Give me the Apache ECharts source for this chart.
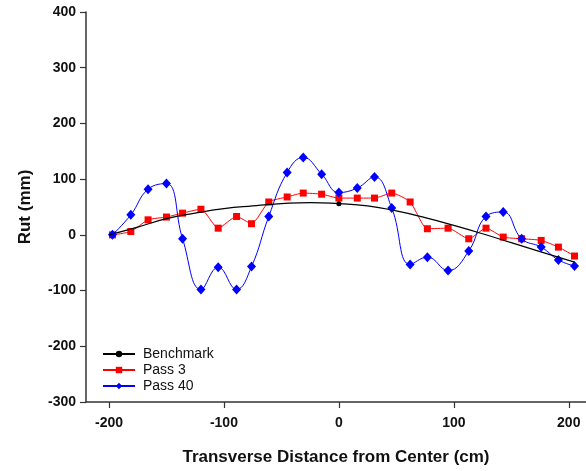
<!DOCTYPE html>
<html><head><meta charset="utf-8">
<script src="https://cdn.jsdelivr.net/npm/echarts@6/dist/echarts.min.js"></script>
<style>html,body{margin:0;padding:0;background:#fff}#c{width:586px;height:471px}</style>
</head><body><div id="c"></div>
<script>
// Data
const benchX = [-200, -175, -150, -125, -100, -75, -50, -25, 0, 25, 50, 75, 100, 125, 150, 175, 205];
const benchY = [0, 14, 29, 39, 47, 52, 56, 58, 56, 52, 43, 31, 17, 2, -14, -30, -49];
const passX = [-197, -181, -166, -150, -136, -120, -105, -89, -76, -61, -45, -31, -15, 0, 16, 31, 46, 62, 77, 95, 113, 128, 143, 159, 176, 191, 205];
const pass3Y = [0, 6, 27, 32, 39, 46, 12, 33, 20, 59, 68, 75, 73, 66, 66, 66, 75, 59, 11, 12, -7, 12, -4, -7, -10, -22, -38];
const pass40Y = [0, 36, 82, 92, -7, -98, -58, -98, -57, 33, 112, 139, 109, 76, 84, 104, 48, -53, -40, -64, -29, 33, 41, -7, -22, -45, -56];
const xTicks = [-200, -100, 0, 100, 200];
const seriesNames = ['Benchmark', 'Pass 3', 'Pass 40'];

const FONT = 'Liberation Sans, Arial, sans-serif';
const zip = (xs, ys) => xs.map((x, i) => [x, ys[i]]);
const benchData = benchX.map((x, i) => x === 0
  ? { value: [x, benchY[i]], symbol: 'circle', symbolSize: 5 }
  : { value: [x, benchY[i]], symbol: 'none' });

const chart = echarts.init(document.getElementById('c'), null, { renderer: 'canvas' });
chart.setOption({
  animation: false,
  backgroundColor: '#fff',
  grid: { left: 86, right: 0, top: 12, bottom: 67, containLabel: false },
  xAxis: {
    type: 'value', min: -220, max: 215,
    name: 'Transverse Distance from Center (cm)', nameLocation: 'middle', nameGap: 47,
    nameTextStyle: { fontFamily: FONT, fontSize: 17, fontWeight: 'bold', color: '#111' },
    axisLine: { show: true, onZero: false, lineStyle: { color: '#333', width: 1.5 } },
    axisTick: { show: true, inside: false, length: 6, customValues: xTicks, lineStyle: { color: '#333', width: 1.2 } },
    axisLabel: { customValues: xTicks, margin: 14, fontFamily: FONT, fontSize: 14, fontWeight: 'bold', color: '#111' },
    splitLine: { show: false }
  },
  yAxis: {
    type: 'value', min: -300, max: 400, interval: 100,
    name: 'Rut (mm)', nameLocation: 'middle', nameGap: 52, nameRotate: 90,
    nameTextStyle: { fontFamily: FONT, fontSize: 17, fontWeight: 'bold', color: '#111' },
    axisLine: { show: true, onZero: false, lineStyle: { color: '#333', width: 1.5 } },
    axisTick: { show: true, inside: false, length: 6, lineStyle: { color: '#333', width: 1.2 } },
    axisLabel: { margin: 10, fontFamily: FONT, fontSize: 14, fontWeight: 'bold', color: '#111' },
    splitLine: { show: false }
  },
  legend: {
    orient: 'vertical', left: 102, top: 347, padding: 0,
    itemWidth: 32, itemHeight: 8, itemGap: 2,
    textStyle: { fontFamily: FONT, fontSize: 14, color: '#111', padding: [0, 0, 0, 3] },
    data: seriesNames
  },
  series: [
    { name: seriesNames[0], type: 'line', data: benchData, smooth: true, symbol: 'circle', symbolSize: 5,
      z: 4, lineStyle: { color: '#000', width: 1.2 }, itemStyle: { color: '#000' } },
    { name: seriesNames[1], type: 'line', data: zip(passX, pass3Y), smooth: 0.2, symbol: 'rect', symbolSize: 7,
      z: 2, lineStyle: { color: '#ff0000', width: 1 }, itemStyle: { color: '#ff0000' } },
    { name: seriesNames[2], type: 'line', data: zip(passX, pass40Y), smooth: 0.45, symbol: 'diamond', symbolSize: [9, 10],
      z: 3, lineStyle: { color: '#0000ff', width: 1 }, itemStyle: { color: '#0000ff' } }
  ]
});
</script></body></html>
